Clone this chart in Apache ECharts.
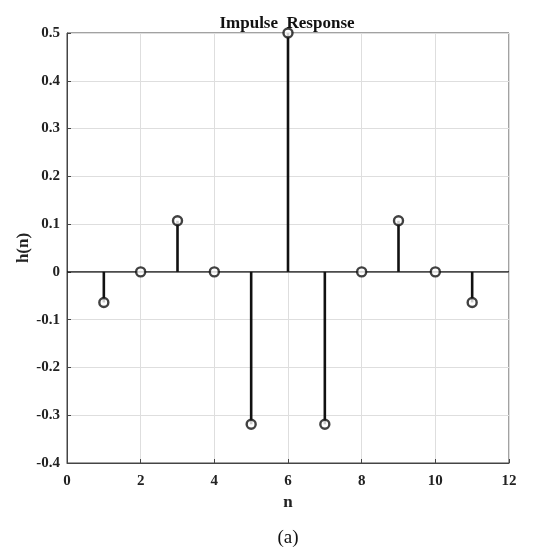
<!DOCTYPE html>
<html>
<head>
<meta charset="utf-8">
<script src="https://cdn.jsdelivr.net/npm/echarts@6/dist/echarts.min.js"></script>
<style>
  html, body { margin: 0; padding: 0; background: #fff; }
  #chart { width: 547px; height: 549px; }
</style>
</head>
<body>
<div id="chart"></div>
<script>
// Sample indices and impulse response values h(n)
const nValues = [1, 2, 3, 4, 5, 6, 7, 8, 9, 10, 11];
const hValues = [-0.064, 0, 0.107, 0, -0.319, 0.5, -0.319, 0, 0.107, 0, -0.064];
const xTicks = [0, 2, 4, 6, 8, 10, 12];
const yTicks = [-0.4, -0.3, -0.2, -0.1, 0, 0.1, 0.2, 0.3, 0.4, 0.5];

const points = nValues.map((n, i) => [n, hValues[i]]);
const serif = '"Liberation Serif", "DejaVu Serif", serif';

const chart = echarts.init(document.getElementById('chart'));
chart.setOption({
  animation: false,
  backgroundColor: '#fff',
  title: [
    {
      text: 'Impulse  Response',
      left: 282, top: 10, textAlign: 'center',
      textStyle: { fontFamily: serif, fontWeight: 'bold', fontSize: 17, color: '#111' }
    },
    {
      text: '(a)',
      left: 283, top: 524, textAlign: 'center',
      textStyle: { fontFamily: serif, fontWeight: 'normal', fontSize: 19, color: '#111' }
    }
  ],
  grid: { left: 67, right: 38, top: 33, bottom: 86, show: true, borderColor: '#444', borderWidth: 1 },
  xAxis: {
    type: 'value',
    min: xTicks[0], max: xTicks[xTicks.length - 1], interval: 2,
    name: 'n', nameLocation: 'middle', nameGap: 31,
    nameTextStyle: { fontFamily: serif, fontWeight: 'bold', fontSize: 17, color: '#222' },
    axisLine: { show: true, onZero: false, lineStyle: { color: '#444', width: 1 } },
    axisTick: { show: true, inside: true, length: 4, lineStyle: { color: '#444' } },
    axisLabel: { fontFamily: serif, fontWeight: 'bold', fontSize: 15, color: '#222', margin: 11 },
    splitLine: { show: true, lineStyle: { color: '#dedede', width: 1 } }
  },
  yAxis: {
    type: 'value',
    min: yTicks[0], max: yTicks[yTicks.length - 1], interval: 0.1,
    name: 'h(n)', nameLocation: 'middle', nameGap: 35, nameRotate: 90,
    nameMoveOverlap: false,
    nameTextStyle: { fontFamily: serif, fontWeight: 'bold', fontSize: 17, color: '#222' },
    axisLine: { show: true, onZero: false, lineStyle: { color: '#444', width: 1 } },
    axisTick: { show: true, inside: true, length: 4, lineStyle: { color: '#444' } },
    axisLabel: {
      fontFamily: serif, fontWeight: 'bold', fontSize: 15, color: '#222', margin: 7,
      formatter: v => (Math.abs(v) < 1e-9 ? '0' : v.toFixed(1))
    },
    splitLine: { show: true, lineStyle: { color: '#dedede', width: 1 } }
  },
  series: [
    {
      // baseline at h = 0
      type: 'line',
      data: [[xTicks[0], 0], [xTicks[xTicks.length - 1], 0]],
      symbol: 'none',
      lineStyle: { color: '#111', width: 1.3 },
      silent: true,
      z: 2
    },
    {
      // stems from the baseline to each sample
      type: 'custom',
      data: points,
      renderItem: (params, api) => {
        const top = api.coord([api.value(0), api.value(1)]);
        const base = api.coord([api.value(0), 0]);
        return {
          type: 'line',
          shape: { x1: base[0], y1: base[1], x2: top[0], y2: top[1] },
          style: { stroke: '#111', lineWidth: 2.6 }
        };
      },
      z: 3
    },
    {
      // open circle markers
      type: 'scatter',
      data: points,
      symbol: 'circle',
      symbolSize: 9,
      itemStyle: { color: '#fff', borderColor: '#111', borderWidth: 2.4 },
      z: 4
    }
  ]
});
</script>
</body>
</html>
